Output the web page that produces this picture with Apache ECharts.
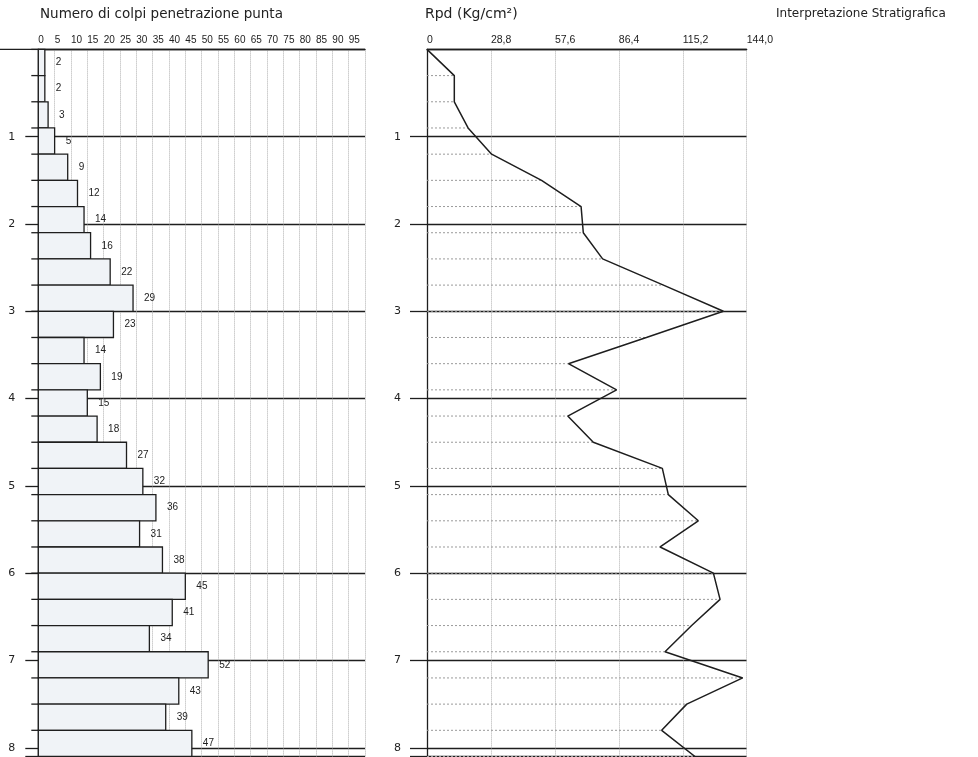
<!DOCTYPE html>
<html><head><meta charset="utf-8">
<script src="https://cdn.jsdelivr.net/npm/echarts@6/dist/echarts.min.js"></script>
<style>html,body{margin:0;padding:0;background:#fff}#c{width:978px;height:757px}</style>
</head><body><div id="c"></div>
<script>
// Bars: blow counts per 0.3 m interval
const depthTop    = [0,0.3,0.6,0.9,1.2,1.5,1.8,2.1,2.4,2.7,3.0,3.3,3.6,3.9,4.2,4.5,4.8,5.1,5.4,5.7,6.0,6.3,6.6,6.9,7.2,7.5,7.8];
const depthBottom = [0.3,0.6,0.9,1.2,1.5,1.8,2.1,2.4,2.7,3.0,3.3,3.6,3.9,4.2,4.5,4.8,5.1,5.4,5.7,6.0,6.3,6.6,6.9,7.2,7.5,7.8,8.1];
const colpi       = [2,2,3,5,9,12,14,16,22,29,23,14,19,15,18,27,32,36,31,38,45,41,34,52,43,39,47];
// Rpd curve
const rpdDepth  = [0,0.3,0.6,0.9,1.2,1.5,1.8,2.1,2.4,2.7,3.0,3.3,3.6,3.9,4.2,4.5,4.8,5.1,5.4,5.7,6.0,6.3,6.6,6.9,7.2,7.5,7.8,8.1];
const rpdValues = [0,12.3,12.3,18.5,29.1,51.6,69.4,70.4,79.1,106.5,133.5,98.8,63.7,85.4,63.4,74.9,106,108.7,122.2,105,129,132,119.2,107.2,142.2,117,105.7,120.7];
// Tick labels
const colpiTickLabels = ['0','5','10','15','20','25','30','35','40','45','50','55','60','65','70','75','80','85','90','95'];
const rpdTickLabels   = ['0','28,8','57,6','86,4','115,2','144,0'];
const depthTickLabels = ['1','2','3','4','5','6','7','8'];

const INK = '#1e1e1e';
const TOP = 49.4, H = 707.1;

function depthLabel(v){ const i = Math.round(v); return (Math.abs(v - i) < 1e-6 && i >= 1 && i <= 8) ? depthTickLabels[i-1] : ''; }

function yAxisCfg(grid, tickLen, margin){
  return {
    type:'value', gridIndex:grid, inverse:true, min:0, max:8.1, interval:1,
    axisLine:{show:true, lineStyle:{color:INK, width:1.3}},
    axisTick:{show:true, length:tickLen, lineStyle:{color:INK, width:1.3}},
    axisLabel:{margin:margin, fontSize:11, color:'#222', fontFamily:'DejaVu Sans', formatter:depthLabel, showMinLabel:false, showMaxLabel:true},
    splitLine:{show:true, lineStyle:{color:INK, width:1.3}}
  };
}

const chart = echarts.init(document.getElementById('c'), null, {renderer:'canvas'});
chart.setOption({
  animation:false,
  backgroundColor:'#fff',
  title:[
    {text:'Numero di colpi penetrazione punta', left:40, top:7, padding:0, textStyle:{fontSize:13.5, fontWeight:'normal', fontFamily:'DejaVu Sans', color:'#222'}},
    {text:'Rpd (Kg/cm²)', left:425, top:7, padding:0, textStyle:{fontSize:14, fontWeight:'normal', fontFamily:'DejaVu Sans', color:'#222'}},
    {text:'Interpretazione Stratigrafica', left:776, top:8, padding:0, textStyle:{fontSize:12, fontWeight:'normal', fontFamily:'DejaVu Sans', color:'#222'}}
  ],
  grid:[
    {left:38.3, top:TOP, width:326.7, height:H},
    {left:427, top:TOP, width:319.7, height:H}
  ],
  xAxis:[
    {type:'value', gridIndex:0, position:'top', min:0, max:100, interval:5,
     axisLine:{show:true, lineStyle:{color:INK, width:1.3}},
     axisTick:{show:false},
     axisLabel:{margin:4, fontSize:10, color:'#222', fontFamily:'Liberation Sans', align:'left',
       showMinLabel:true, showMaxLabel:false, hideOverlap:false,
       formatter:v => { const i = Math.round(v/5); return colpiTickLabels[i] !== undefined ? colpiTickLabels[i] : ''; }},
     splitLine:{show:true, lineStyle:{color:'#b0b0b0', type:'dotted', width:1}}},
    {type:'value', gridIndex:1, position:'top', min:0, max:144, interval:28.8,
     axisLine:{show:true, lineStyle:{color:INK, width:1.3}},
     axisTick:{show:false},
     axisLabel:{margin:4, fontSize:10.5, color:'#222', fontFamily:'Liberation Sans', align:'left',
       showMinLabel:true, showMaxLabel:true, hideOverlap:false,
       formatter:v => { const i = Math.round(v/28.8); return rpdTickLabels[i] !== undefined ? rpdTickLabels[i] : ''; }},
     splitLine:{show:true, lineStyle:{color:'#b0b0b0', type:'dotted', width:1}}}
  ],
  yAxis:[ yAxisCfg(0, 13, 23), yAxisCfg(1, 17, 26) ],
  graphic:[
    {type:'line', shape:{x1:0, y1:TOP, x2:38.3, y2:TOP}, style:{stroke:INK, lineWidth:1.3}}
  ],
  series:[
    {
      type:'custom', xAxisIndex:0, yAxisIndex:0, z:3,
      data: colpi.map((n,i) => [n, depthTop[i], depthBottom[i]]),
      encode:{x:0, y:[1,2]},
      renderItem:(params, api) => {
        const n = api.value(0), t = api.value(1), b = api.value(2);
        const p0 = api.coord([0, t]), p1 = api.coord([n, b]);
        return {type:'group', children:[
          {type:'rect', shape:{x:p0[0], y:p0[1], width:p1[0]-p0[0], height:p1[1]-p0[1]},
           style:{fill:'#f0f3f7', stroke:INK, lineWidth:1.3}},
          {type:'line', shape:{x1:p0[0]-7, y1:p0[1], x2:p0[0], y2:p0[1]}, style:{stroke:INK, lineWidth:1.3}},
          {type:'text', style:{text:String(n), x:p1[0]+11, y:(p0[1]+p1[1])/2, verticalAlign:'middle', align:'left',
            fontSize:10, fontFamily:'Liberation Sans', fill:'#222'}}
        ]};
      }
    },
    {
      type:'custom', xAxisIndex:1, yAxisIndex:1, z:2,
      data: rpdValues.map((v,i) => [v, rpdDepth[i]]),
      encode:{x:0, y:1},
      renderItem:(params, api) => {
        const v = api.value(0), d = api.value(1);
        const a = api.coord([0, d]), b = api.coord([v, d]);
        return {type:'line', shape:{x1:a[0], y1:a[1], x2:b[0], y2:b[1]},
          style:{stroke:'#9a9a9a', lineWidth:1, lineDash:[2,2]}};
      }
    },
    {
      type:'line', xAxisIndex:1, yAxisIndex:1, z:4,
      data: rpdValues.map((v,i) => [v, rpdDepth[i]]),
      showSymbol:false, symbol:'none',
      lineStyle:{color:INK, width:1.5}
    }
  ]
});
</script>
</body></html>
